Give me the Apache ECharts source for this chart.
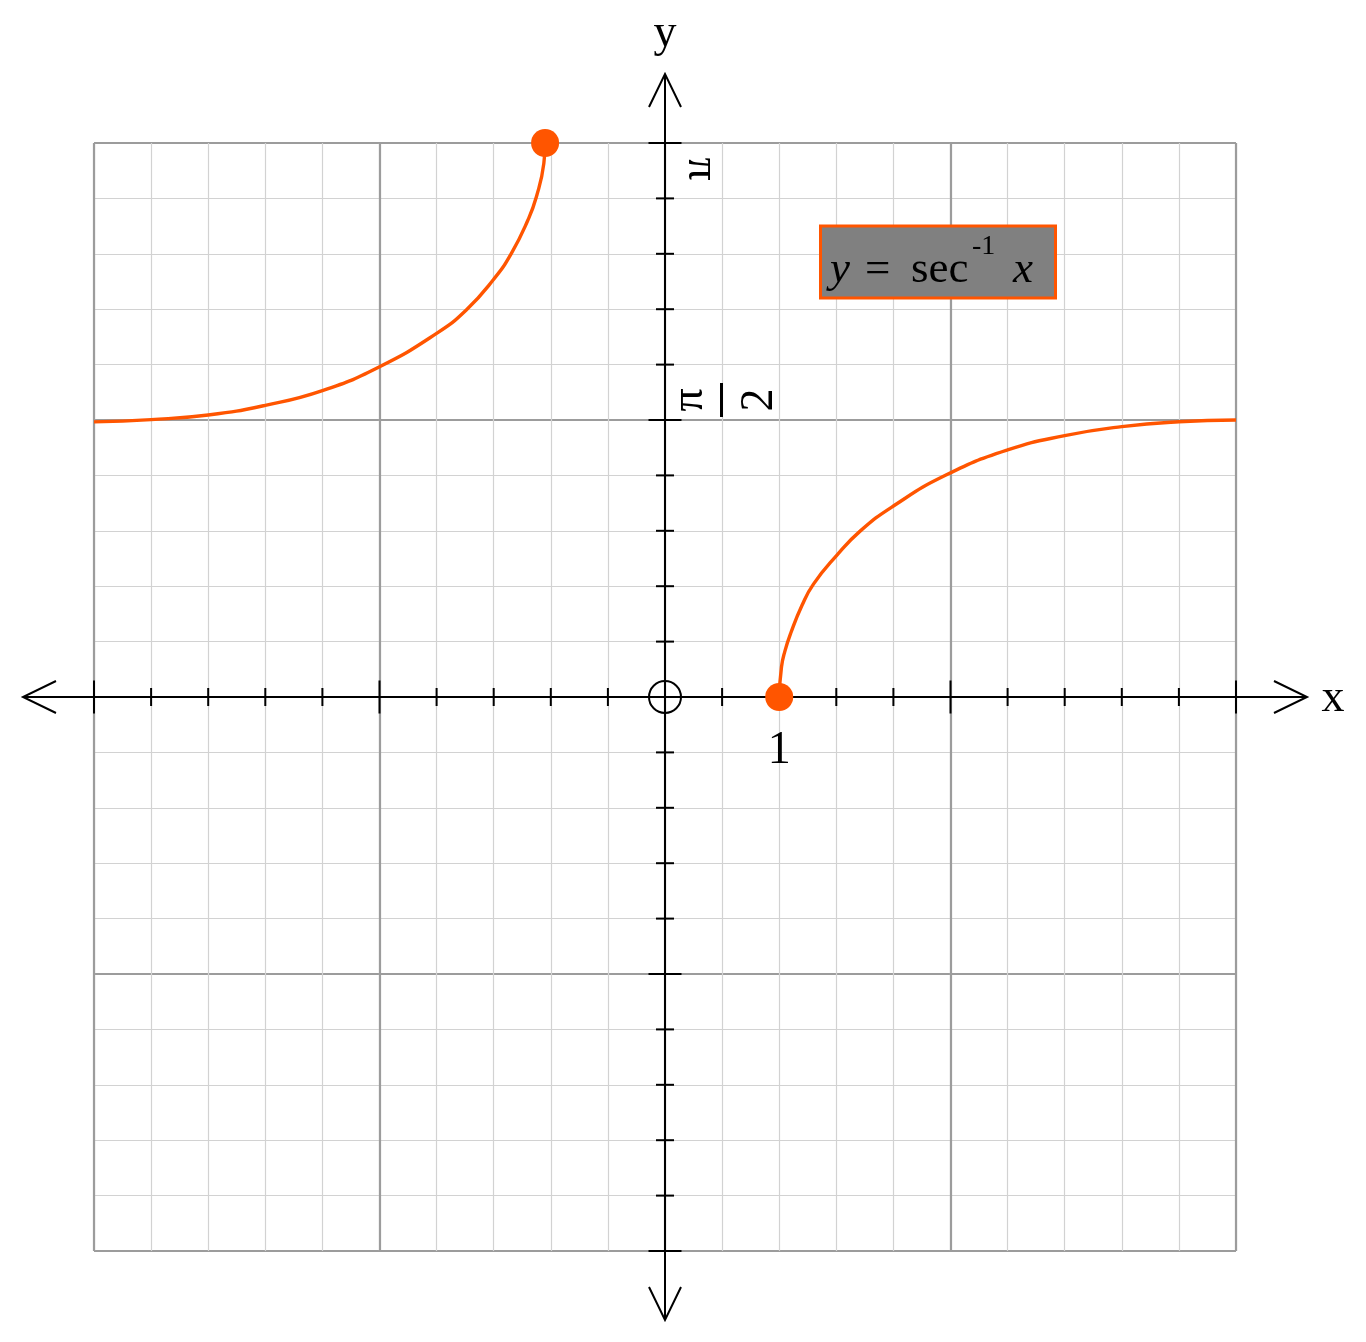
<!DOCTYPE html>
<html>
<head>
<meta charset="utf-8">
<script src="https://cdn.jsdelivr.net/npm/echarts@6/dist/echarts.min.js"></script>
<style>html,body{margin:0;padding:0;background:#fff}#c{width:1366px;height:1342px}</style>
</head>
<body>
<div id="c"></div>
<script>
// ---- data ----
const PI_UNIT = Math.PI / 10;            // y axis runs in tenths of pi
const xRange = [-5, 5];
const yRangeUnits = [-10, 10];           // -pi .. pi
// right branch (x >= 1), y in radians
const rightX = [1.0, 1.02, 1.05, 1.1, 1.2, 1.3, 1.5, 1.711, 2.0, 2.456, 3.0, 3.5, 4.0, 4.5, 5.0];
const rightY = [0.0, 0.17, 0.26, 0.36, 0.52, 0.64, 0.80, 0.942, 1.083, 1.257, 1.401, 1.482, 1.533, 1.561, 1.571];
// left branch (x <= -1)
const leftX = [-5.0, -4.5, -4.0, -3.5, -3.0, -2.5, -2.0, -1.74, -1.5, -1.345, -1.2, -1.126, -1.061, -1.05];
const leftY = [1.56, 1.573, 1.599, 1.654, 1.737, 1.873, 2.062, 2.195, 2.369, 2.516, 2.705, 2.837, 3.026, 3.1416];
// closed end points
const endX = [1.0, -1.05];
const endY = [0.0, 3.1416];
// axis ticks
const xMinorTicks = [-4.5, -4, -3.5, -3, -2, -1.5, -1, -0.5, 0.5, 1, 1.5, 2, 3, 3.5, 4, 4.5];
const xMajorTicks = [-5, -2.5, 2.5, 5];
const yMinorTicks = [-9, -8, -7, -6, -4, -3, -2, -1, 1, 2, 3, 4, 6, 7, 8, 9]; // tenths of pi
const yMajorTicks = [-10, -5, 5, 10];
// tick labels
const xTickLabel = { value: 1, text: '1' };
const curveLabel = ['y', '=', 'sec', '-1', 'x'];

// ---- styles ----
const ORANGE = '#ff5500';
const SERIF = '"Liberation Serif", "DejaVu Serif", serif';

const toPairs = (xs, ys) => xs.map((x, i) => [x, ys[i] / PI_UNIT]);

const chart = echarts.init(document.getElementById('c'), null, { renderer: 'canvas' });

const axisBase = {
  type: 'value',
  axisLine: { show: false },
  axisTick: { show: false },
  axisLabel: { show: false },
};

chart.setOption({
  animation: false,
  backgroundColor: '#fff',
  grid: { left: 94, right: 130, top: 143, bottom: 91 },
  xAxis: [
    Object.assign({}, axisBase, { min: xRange[0], max: xRange[1], interval: 0.5,
      splitLine: { show: true, lineStyle: { color: '#d2d2d2', width: 1.2 } } }),
    Object.assign({}, axisBase, { min: xRange[0], max: xRange[1], interval: 2.5,
      splitLine: { show: true, lineStyle: { color: '#9c9c9c', width: 2.2 } } })
  ],
  yAxis: [
    Object.assign({}, axisBase, { min: yRangeUnits[0], max: yRangeUnits[1], interval: 1,
      splitLine: { show: true, lineStyle: { color: '#d2d2d2', width: 1.2 } } }),
    Object.assign({}, axisBase, { min: yRangeUnits[0], max: yRangeUnits[1], interval: 5,
      splitLine: { show: true, lineStyle: { color: '#9c9c9c', width: 2.2 } } })
  ],
  series: [
    { type: 'scatter', z: 3, silent: true, symbol: 'rect', symbolSize: [2, 18],
      itemStyle: { color: '#000', opacity: 1 }, data: xMinorTicks.map(v => [v, 0]) },
    { type: 'scatter', z: 3, silent: true, symbol: 'rect', symbolSize: [2, 33],
      itemStyle: { color: '#000', opacity: 1 }, data: xMajorTicks.map(v => [v, 0]) },
    { type: 'scatter', z: 3, silent: true, symbol: 'rect', symbolSize: [18, 2],
      itemStyle: { color: '#000', opacity: 1 }, data: yMinorTicks.map(v => [0, v]) },
    { type: 'scatter', z: 3, silent: true, symbol: 'rect', symbolSize: [33, 2],
      itemStyle: { color: '#000', opacity: 1 }, data: yMajorTicks.map(v => [0, v]) },
    { type: 'line', z: 5, silent: true, smooth: 0.5, symbol: 'none', clip: false,
      lineStyle: { color: ORANGE, width: 3.4 }, data: toPairs(rightX, rightY) },
    { type: 'line', z: 5, silent: true, smooth: 0.5, symbol: 'none', clip: false,
      lineStyle: { color: ORANGE, width: 3.4 }, data: toPairs(leftX, leftY) },
    { type: 'scatter', z: 6, silent: true, symbol: 'circle', symbolSize: 28, clip: false,
      itemStyle: { color: ORANGE, opacity: 1 }, data: toPairs(endX, endY) }
  ]
});

// ---- decorations positioned from the axes ----
const o = chart.convertToPixel({ gridIndex: 0 }, [0, 0]);
const pMin = chart.convertToPixel({ gridIndex: 0 }, [xRange[0], yRangeUnits[0]]);
const pMax = chart.convertToPixel({ gridIndex: 0 }, [xRange[1], yRangeUnits[1]]);
const ox = o[0], oy = o[1];
const gl = pMin[0], gr = pMax[0], gt = pMax[1], gb = pMin[1];
const EXT = 71, AL = 33, AW = 16;
const xl = gl - EXT, xr = gr + EXT, yt = gt - EXT + 2, yb = gb + EXT - 2;
const pOne = chart.convertToPixel({ gridIndex: 0 }, [xTickLabel.value, 0]);
const pPi = chart.convertToPixel({ gridIndex: 0 }, [0, Math.PI / PI_UNIT]);
const pHalf = chart.convertToPixel({ gridIndex: 0 }, [0, (Math.PI / 2) / PI_UNIT]);

const blk = { stroke: '#000', lineWidth: 2, fill: null };
const txt = (x, y, text, size, extra) => Object.assign({
  type: 'text', x: x, y: y, z: 10, silent: true,
  style: Object.assign({ text: text, fill: '#000', font: size + 'px ' + SERIF,
    align: 'center', verticalAlign: 'middle' }, (extra && extra.style) || {})
}, extra ? { rotation: extra.rotation || 0 } : {});

chart.setOption({
  graphic: [
    { type: 'line', z: 4, silent: true, shape: { x1: xl, y1: oy, x2: xr, y2: oy }, style: blk },
    { type: 'line', z: 4, silent: true, shape: { x1: ox, y1: yt, x2: ox, y2: yb }, style: blk },
    { type: 'polyline', z: 4, silent: true, shape: { points: [[xl + AL, oy - AW], [xl, oy], [xl + AL, oy + AW]] }, style: blk },
    { type: 'polyline', z: 4, silent: true, shape: { points: [[xr - AL, oy - AW], [xr, oy], [xr - AL, oy + AW]] }, style: blk },
    { type: 'polyline', z: 4, silent: true, shape: { points: [[ox - AW, yt + AL], [ox, yt], [ox + AW, yt + AL]] }, style: blk },
    { type: 'polyline', z: 4, silent: true, shape: { points: [[ox - AW, yb - AL], [ox, yb], [ox + AW, yb - AL]] }, style: blk },
    { type: 'circle', z: 4, silent: true, shape: { cx: ox, cy: oy, r: 16 }, style: blk },
    txt(ox, 34, 'y', 46),
    txt(xr + 26, oy + 2, 'x', 46),
    txt(pOne[0], pOne[1] + 54, xTickLabel.text, 46),
    txt(pPi[0] + 36, pPi[1] + 26, 'π', 46, { rotation: -Math.PI / 2 }),
    txt(pHalf[0] + 25, pHalf[1] - 20, 'π', 46, { rotation: Math.PI / 2 }),
    { type: 'line', z: 10, silent: true, shape: { x1: pHalf[0] + 56.5, y1: pHalf[1] - 37, x2: pHalf[0] + 56.5, y2: pHalf[1] - 3 },
      style: { stroke: '#000', lineWidth: 3 } },
    txt(pHalf[0] + 95, pHalf[1] - 20, '2', 46, { rotation: Math.PI / 2 }),
    // label box
    { type: 'rect', z: 10, silent: true, shape: { x: 820.5, y: 226, width: 235, height: 72 },
      style: { fill: '#808080', stroke: ORANGE, lineWidth: 3 } },
    txt(830, 270, curveLabel[0], 45, { style: { align: 'left', font: 'italic 45px ' + SERIF } }),
    txt(865, 270, curveLabel[1], 45, { style: { align: 'left' } }),
    txt(911, 270, curveLabel[2], 45, { style: { align: 'left' } }),
    txt(972, 247, curveLabel[3], 28, { style: { align: 'left' } }),
    txt(1013, 270, curveLabel[4], 45, { style: { align: 'left', font: 'italic 45px ' + SERIF } })
  ]
});
</script>
</body>
</html>
